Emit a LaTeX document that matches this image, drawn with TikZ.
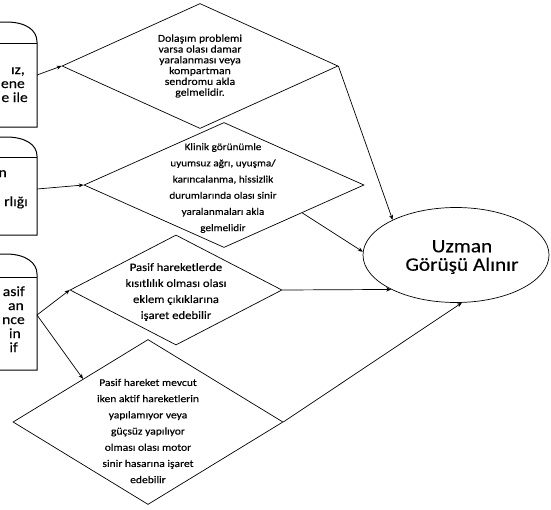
\documentclass[tikz,border=0pt]{standalone}
\usepackage{fontspec}
\setmainfont{Carlito}[FakeStretch=1.12,FakeBold=0.3]
\usetikzlibrary{shapes.geometric,arrows.meta,calc}
\tikzset{
  dia/.style={draw=black,line width=0.7pt,diamond,inner sep=0pt},
  dtext/.style={align=center,inner sep=0pt,text=black},
  btext/.style={anchor=base east,inner sep=0pt,font=\fontsize{14}{15}\selectfont},
  conn/.style={draw=black,line width=0.7pt,-{Stealth[length=5pt,width=4pt]}},
  boxline/.style={draw=black,line width=1pt}
}
\begin{document}
\begin{tikzpicture}[x=1pt,y=-1pt]
\useasboundingbox (0,0) rectangle (551,509);
% left boxes (clipped at the left edge)
\draw[boxline] (-5,22) -- (6,22) .. controls (26,22) and (37,30) .. (37,42) -- (37,127) -- (-5,127);
\draw[boxline] (-5,43) -- (37,43);
\draw[boxline] (-5,137) -- (6,137) .. controls (26,137) and (37,145) .. (37,156) -- (37,235) -- (-5,235);
\draw[boxline] (-5,157) -- (37,157);
\draw[boxline] (-5,254) -- (6,254) .. controls (26,254) and (37,263) .. (37,274) -- (37,370) -- (-5,370);
\draw[boxline] (-5,277) -- (37,277);
\coordinate (b1e) at (37,75);
\coordinate (b2e) at (37,189);
\coordinate (b3e) at (37,315);
% box texts
\node[btext] (t1a) at (25,74) {ız,};
\node[btext] (t1b) at (25,88) {ene};
\node[btext] (t1c) at (28,102) {e ile};
\node[btext] (t2a) at (7,177) {n};
\node[btext] (t2b) at (28,206) {rlığı};
\node[btext] (t3a) at (25,296) {asif};
\node[btext] (t3b) at (24,310) {an};
\node[btext] (t3c) at (25,324) {nce};
\node[btext] (t3d) at (21,338) {in};
\node[btext] (t3e) at (18,352) {if};
% diamonds
\node[dia,minimum width=276pt,minimum height=125pt] (d1) at (200,66) {};
\node[dia,minimum width=280pt,minimum height=125pt] (d2) at (224,185) {};
\node[dia,minimum width=212pt,minimum height=110pt] (d3) at (176,290) {};
\node[dia,minimum width=270pt,minimum height=165pt] (d4) at (148,422) {};
% diamond texts
\node[dtext,font=\fontsize{10.5}{10.8}\selectfont] (x1) at (200,66) {Dolaşım problemi\\varsa olası damar\\yaralanması veya\\kompartman\\sendromu akla\\gelmelidir.};
\node[dtext,font=\fontsize{10}{16.2}\selectfont] (x2) at (223,188) {Klinik görünümle\\uyumsuz ağrı, uyuşma/\\karıncalanma, hissizlik\\durumlarında olası sinir\\yaralanmaları akla\\gelmelidir};
\node[dtext,font=\fontsize{11.3}{16}\selectfont] (x3) at (176,292) {Pasif hareketlerde\\kısıtlılık olması olası\\eklem çıkıklarına\\işaret edebilir};
\node[dtext,font=\fontsize{10.3}{16.2}\selectfont] (x4) at (148,431) {Pasif hareket mevcut\\iken aktif hareketlerin\\yapılamıyor veya\\güçsüz yapılıyor\\olması olası motor\\sinir hasarına işaret\\edebilir};
% ellipse
\node[draw=black,line width=0.7pt,ellipse,minimum width=186pt,minimum height=95pt,inner sep=0pt] (ell) at (456,255) {};
\node[align=center,inner sep=0pt,font=\fontsize{19}{18.5}\selectfont] (et) at (462,257) {Uzman\\Görüşü Alınır};
% connectors
\draw[conn] (b1e) -- (d1.west);
\draw[conn] (b2e) -- (d2.west);
\draw[conn] (b3e) -- (d3.west);
\coordinate (d4ul) at ($(d4.west)!0.52!(d4.north)$);
\draw[conn] (b3e) -- (d4ul);
\draw[conn] (d1.east) -- (ell.151);
\coordinate (d2lr) at ($(d2.east)!0.443!(d2.south)$);
\draw[conn] (d2lr) -- (ell.178);
\draw[conn] (d3.east) -- (ell.208);
\draw[conn] (d4.east) -- (ell.277);
\end{tikzpicture}
\end{document}
